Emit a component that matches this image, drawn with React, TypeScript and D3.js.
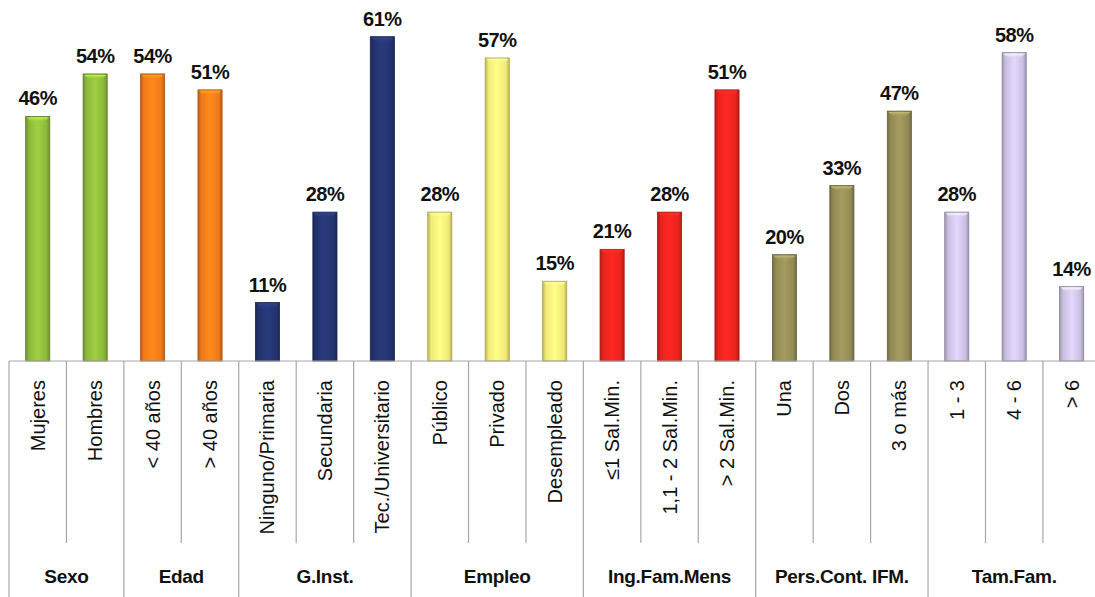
import React from "react";
import * as d3 from "d3";

const categories = [
  "Mujeres", "Hombres",
  "< 40 años", "> 40 años",
  "Ninguno/Primaria", "Secundaria", "Tec./Universitario",
  "Público", "Privado", "Desempleado",
  "≤1 Sal.Min.", "1,1 - 2 Sal.Min.", "> 2 Sal.Min.",
  "Una", "Dos", "3 o más",
  "1 - 3", "4 - 6", "> 6",
];
const values = [46, 54, 54, 51, 11, 28, 61, 28, 57, 15, 21, 28, 51, 20, 33, 47, 28, 58, 14];
const groups = ["Sexo", "Edad", "G.Inst.", "Empleo", "Ing.Fam.Mens", "Pers.Cont. IFM.", "Tam.Fam."];
const groupSizes = [2, 2, 3, 3, 3, 3, 3];
const groupColors = ["#8cb83b", "#ef7a18", "#24336e", "#f1ea76", "#e8231d", "#928a55", "#c9bfe0"];

const W = 1095;
const H = 597;
const left = 9;
const step = 57.44;
const baseY = 361;
const FONT = "'Liberation Sans', Arial, sans-serif";

export default function App() {
  const slot = d3.scaleBand<string>().domain(categories).range([left, left + step * categories.length]).padding(0);
  const bar = d3.scaleBand<string>().domain(categories).range([left, left + step * categories.length])
    .paddingInner(0.58).paddingOuter(0.29);
  const y = d3.scaleLinear().domain([0, 67.9]).range([baseY, 0]);

  const catColor: string[] = [];
  const groupStart: number[] = [];
  let idx = 0;
  groupSizes.forEach((n, g) => {
    groupStart.push(idx);
    for (let i = 0; i < n; i++) catColor.push(groupColors[g]);
    idx += n;
  });

  const bw = bar.bandwidth();

  return (
    <svg width={W} height={H} style={{ display: "block", position: "absolute", left: 0, top: 0, background: "#fff" }}>
      <defs>
        {groupColors.map((c, g) => {
          const dark = d3.color(c)!.darker(0.7).formatHex();
          const light = d3.color(c)!.brighter(0.35).formatHex();
          const cap = d3.color(c)!.brighter(0.9).formatHex();
          return (
            <React.Fragment key={g}>
              <linearGradient id={`g${g}`} x1="0" x2="1" y1="0" y2="0">
                <stop offset="0%" stopColor={dark} />
                <stop offset="14%" stopColor={c} />
                <stop offset="50%" stopColor={light} />
                <stop offset="86%" stopColor={c} />
                <stop offset="100%" stopColor={dark} />
              </linearGradient>
              <linearGradient id={`c${g}`} x1="0" x2="0" y1="0" y2="1">
                <stop offset="0%" stopColor={cap} stopOpacity={0.95} />
                <stop offset="100%" stopColor={c} stopOpacity={0} />
              </linearGradient>
            </React.Fragment>
          );
        })}
      </defs>

      {/* bars */}
      {categories.map((cat, i) => {
        const g = groupSizes.findIndex((_, k) => i >= groupStart[k] && i < groupStart[k] + groupSizes[k]);
        const x0 = bar(cat)!;
        const yt = y(values[i]);
        return (
          <g key={cat}>
            <rect x={x0} y={yt} width={bw} height={baseY - yt} fill={`url(#g${g})`}
              stroke={d3.color(catColor[i])!.darker(1).formatHex()} strokeWidth={0.8} />
            <path d={`M${x0 + 1},${yt + 1} L${x0 + bw - 1},${yt + 1} Q${x0 + bw / 2},${yt + 12} ${x0 + 1},${yt + 1} Z`}
              fill={`url(#c${g})`} />
            <text x={x0 + bw / 2} y={yt - 11} textAnchor="middle" fontFamily={FONT} fontWeight="bold"
              fontSize={20} fill="#111" letterSpacing={-0.5}>{values[i]}%</text>
          </g>
        );
      })}

      {/* axis line */}
      <line x1={left} x2={W} y1={baseY} y2={baseY} stroke="#a8a8a8" strokeWidth={1.2} />

      {/* tick separators */}
      {categories.map((cat, i) => {
        const x = slot(cat)!;
        const isGroupEdge = groupStart.includes(i);
        return (
          <line key={`s${i}`} x1={x} x2={x} y1={baseY} y2={isGroupEdge ? H : 543}
            stroke="#a8a8a8" strokeWidth={1.2} />
        );
      })}

      {/* category labels */}
      {categories.map((cat) => {
        const cx = slot(cat)! + slot.bandwidth() / 2;
        return (
          <text key={`l${cat}`} transform={`translate(${cx + 7},380) rotate(-90)`} textAnchor="end"
            fontFamily={FONT} fontSize={20} fill="#111">{cat}</text>
        );
      })}

      {/* group labels */}
      {groups.map((gname, g) => {
        const a = slot(categories[groupStart[g]])!;
        const b = slot(categories[groupStart[g] + groupSizes[g] - 1])! + slot.bandwidth();
        return (
          <text key={gname} x={(a + b) / 2} y={583} textAnchor="middle" fontFamily={FONT}
            fontWeight="bold" fontSize={19} fill="#111" letterSpacing={-0.3}>{gname}</text>
        );
      })}
    </svg>
  );
}
